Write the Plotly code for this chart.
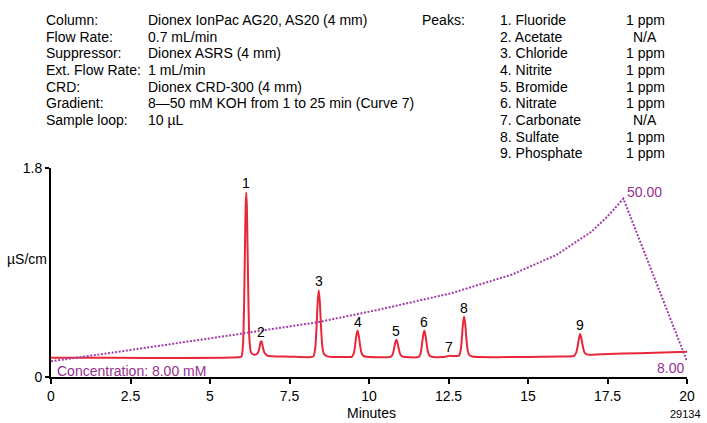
import plotly.graph_objects as go

# ---------------- data ----------------
header_labels = ["Column:", "Flow Rate:", "Suppressor:", "Ext. Flow Rate:", "CRD:", "Gradient:", "Sample loop:"]
header_values = ["Dionex IonPac AG20, AS20 (4 mm)", "0.7 mL/min", "Dionex ASRS (4 mm)", "1 mL/min",
                 "Dionex CRD-300 (4 mm)", "8\u201450 mM KOH from 1 to 25 min (Curve 7)", "10 \u00b5L"]
peak_names = ["1. Fluoride", "2. Acetate", "3. Chloride", "4. Nitrite", "5. Bromide",
              "6. Nitrate", "7. Carbonate", "8. Sulfate", "9. Phosphate"]
peak_conc = ["1 ppm", "N/A", "1 ppm", "1 ppm", "1 ppm", "1 ppm", "N/A", "1 ppm", "1 ppm"]

# peak labels: number, retention time (min), apex (uS/cm)
label_text = ["1", "2", "3", "4", "5", "6", "7", "8", "9"]
label_time = [6.14, 6.61, 8.42, 9.64, 10.86, 11.74, 12.52, 12.99, 16.64]
label_apex = [1.59, 0.307, 0.747, 0.40, 0.32, 0.40, 0.185, 0.52, 0.37]

# chromatogram trace (minutes, uS/cm)
signal_t = [0.0, 2.0, 4.0, 5.9,
            5.99, 6.04, 6.07, 6.10, 6.12, 6.14, 6.16, 6.18, 6.21, 6.24, 6.29, 6.36, 6.45,
            6.52, 6.56, 6.59, 6.61, 6.63, 6.66, 6.71, 6.80, 6.95,
            7.5, 8.2,
            8.26, 8.31, 8.35, 8.385, 8.42, 8.455, 8.49, 8.53, 8.58, 8.67, 8.85,
            9.3,
            9.46, 9.52, 9.56, 9.60, 9.64, 9.68, 9.72, 9.76, 9.82, 9.92,
            10.5,
            10.68, 10.74, 10.78, 10.82, 10.86, 10.90, 10.94, 10.98, 11.04, 11.14,
            11.56, 11.62, 11.66, 11.70, 11.74, 11.78, 11.82, 11.86, 11.92, 12.02,
            12.3, 12.45, 12.55, 12.65,
            12.83, 12.88, 12.92, 12.955, 12.99, 13.025, 13.06, 13.10, 13.15, 13.25, 13.45,
            14.0, 15.0, 16.0, 16.4,
            16.45, 16.51, 16.56, 16.60, 16.64, 16.68, 16.72, 16.77, 16.84, 16.95,
            17.5, 18.5, 19.5, 20.0]
signal_y = [0.165, 0.165, 0.164, 0.170,
            0.175, 0.29, 0.595, 1.13, 1.46, 1.59, 1.46, 1.13, 0.62, 0.32, 0.21, 0.195, 0.195,
            0.215, 0.26, 0.30, 0.307, 0.30, 0.26, 0.21, 0.185, 0.178,
            0.175, 0.172,
            0.181, 0.25, 0.428, 0.641, 0.747, 0.641, 0.44, 0.27, 0.20, 0.18, 0.173,
            0.172,
            0.174, 0.203, 0.266, 0.354, 0.40, 0.354, 0.272, 0.212, 0.182, 0.174,
            0.171,
            0.173, 0.191, 0.232, 0.29, 0.32, 0.29, 0.237, 0.197, 0.177, 0.172,
            0.173, 0.202, 0.265, 0.353, 0.40, 0.353, 0.27, 0.21, 0.18, 0.173,
            0.172, 0.178, 0.183, 0.18,
            0.184, 0.225, 0.33, 0.46, 0.52, 0.46, 0.335, 0.235, 0.19, 0.176, 0.172,
            0.171, 0.172, 0.176, 0.178,
            0.182, 0.205, 0.26, 0.33, 0.37, 0.33, 0.27, 0.215, 0.195, 0.192,
            0.198, 0.205, 0.213, 0.218]

# eluent concentration profile (minutes, mM)
grad_t = [0.0, 1.5, 5.0, 8.4, 10.3, 12.6, 14.5, 15.9, 17.0, 17.5, 18.0, 20.0]
grad_c = [8.0, 9.7, 13.9, 18.1, 21.3, 25.6, 30.4, 35.5, 41.5, 45.4, 50.0, 8.0]

x_ticks = [0, 2.5, 5, 7.5, 10, 12.5, 15, 17.5, 20]
x_tick_text = ["0", "2.5", "5", "7.5", "10", "12.5", "15", "17.5", "20"]
y_ticks = [0, 1.8]
y_tick_text = ["0", "1.8"]

# ---------------- styling ----------------
W, H = 707, 423
ML, MR, MT, MB = 51, 17, 168, 46
FONT = "Liberation Sans, Arial, Helvetica, sans-serif"
RED = "#E8283A"
PURPLE = "#96308F"

pw = W - ML - MR
ph = H - MT - MB


def px_x(p):
    return (p - ML) / pw


def px_y(p):
    return (H - MB - p) / ph


fig = go.Figure()
fig.add_trace(go.Scatter(x=grad_t, y=grad_c, mode="lines", yaxis="y2",
                         line=dict(color="#A03CA8", width=2, dash="2px,1.6px"), hoverinfo="skip"))
fig.add_trace(go.Scatter(x=signal_t, y=signal_y, mode="lines",
                         line=dict(color=RED, width=2, shape="spline", smoothing=0.6), hoverinfo="skip"))

ann = []
txt = dict(family=FONT, size=14, color="black")
for i, (lab, val) in enumerate(zip(header_labels, header_values)):
    yy = px_y(20 + 16.67 * i)
    ann.append(dict(x=px_x(44), y=yy, xref="paper", yref="paper", text=lab, showarrow=False,
                    xanchor="left", yanchor="middle", font=txt))
    ann.append(dict(x=px_x(146), y=yy, xref="paper", yref="paper", text=val, showarrow=False,
                    xanchor="left", yanchor="middle", font=txt))
ann.append(dict(x=px_x(421.7), y=px_y(20), xref="paper", yref="paper", text="Peaks:", showarrow=False,
                xanchor="left", yanchor="middle", font=txt))
for i, (nm, cc) in enumerate(zip(peak_names, peak_conc)):
    yy = px_y(20 + 16.67 * i)
    ann.append(dict(x=px_x(500), y=yy, xref="paper", yref="paper", text=nm, showarrow=False,
                    xanchor="left", yanchor="middle", font=txt))
    ann.append(dict(x=px_x(648), y=yy, xref="paper", yref="paper", text=cc, showarrow=False,
                    xanchor="center", yanchor="middle", font=txt))

for lt, tt, ay in zip(label_text, label_time, label_apex):
    ann.append(dict(x=tt, y=ay, xref="x", yref="y", text=lt, showarrow=False,
                    xanchor="center", yanchor="bottom", yshift=-1, font=txt))

ann.append(dict(x=0, y=1.017, xref="paper", yref="y", text="\u00b5S/cm", showarrow=False,
                xanchor="right", yanchor="middle", xshift=-2, font=txt))
ann.append(dict(x=px_x(373), y=px_y(413), xref="paper", yref="paper", text="Minutes", showarrow=False,
                xanchor="center", yanchor="middle", font=txt))
ann.append(dict(x=px_x(706), y=px_y(414), xref="paper", yref="paper", text="29134", showarrow=False,
                xanchor="right", yanchor="middle", font=dict(family=FONT, size=11, color="black")))

pfont = dict(family=FONT, size=14, color=PURPLE)
ann.append(dict(x=px_x(55), y=px_y(371), xref="paper", yref="paper", text="Concentration: 8.00 mM",
                showarrow=False, xanchor="left", yanchor="middle", font=pfont))
ann.append(dict(x=grad_t[-2], y=grad_c[-2], xref="x", yref="y2", text="50.00", showarrow=False,
                xanchor="left", yanchor="middle", xshift=2, yshift=7, font=pfont))
ann.append(dict(x=grad_t[-1], y=grad_c[-1], xref="x", yref="y2", text="8.00", showarrow=False,
                xanchor="right", yanchor="middle", xshift=-1, yshift=-7, font=pfont))

fig.update_layout(
    width=W, height=H, margin=dict(l=ML, r=MR, t=MT, b=MB, pad=0),
    paper_bgcolor="white", plot_bgcolor="white", showlegend=False,
    font=dict(family=FONT, size=14, color="black"),
    xaxis=dict(range=[0, 20], tickvals=x_ticks, ticktext=x_tick_text, showgrid=False, zeroline=False,
               showline=True, linecolor="black", linewidth=2, ticks="outside", ticklen=5, tickwidth=2,
               tickcolor="black", tickfont=dict(family=FONT, size=14, color="black")),
    yaxis=dict(range=[0, 1.8], tickvals=y_ticks, ticktext=y_tick_text, showgrid=False, zeroline=False,
               showline=True, linecolor="black", linewidth=2, ticks="outside", ticklen=4, tickwidth=2,
               tickcolor="black", tickfont=dict(family=FONT, size=14, color="black")),
    yaxis2=dict(range=[3.92, 57.93], overlaying="y", visible=False),
    annotations=ann,
)

fig.write_html("out.html")
